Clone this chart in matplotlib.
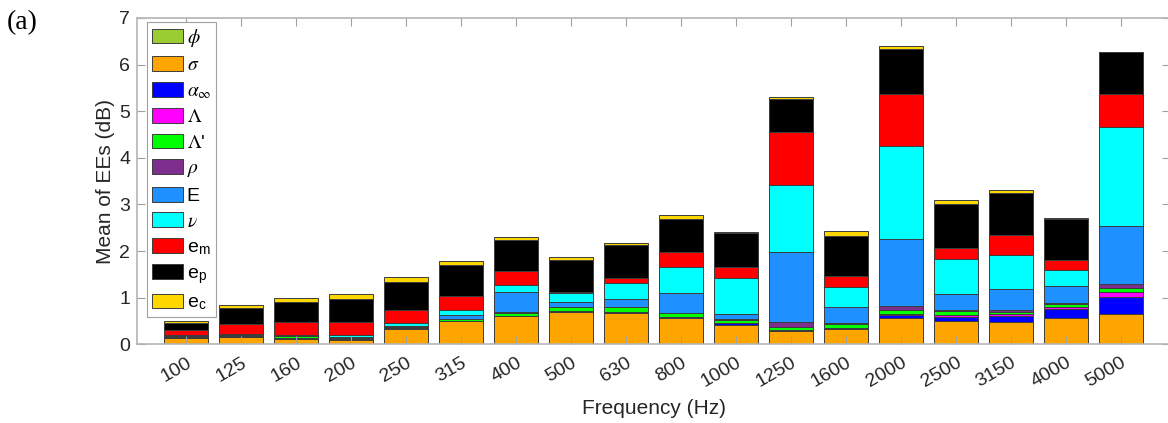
import numpy as np
import matplotlib
matplotlib.use('Agg')
import matplotlib.pyplot as plt

plt.rcParams['font.family'] = ['Liberation Sans', 'DejaVu Sans']
plt.rcParams['mathtext.fontset'] = 'stix'

freq = ['100', '125', '160', '200', '250', '315', '400', '500', '630',
        '800', '1000', '1250', '1600', '2000', '2500', '3150', '4000', '5000']

# stacked contributions, bottom to top
phi = [0.01] * 18
sigma = [0.13, 0.15, 0.11, 0.08, 0.31, 0.48, 0.59, 0.69, 0.67, 0.56, 0.41, 0.27, 0.31, 0.55, 0.50, 0.46, 0.56, 0.65]
alpha = [0.01, 0.01, 0.01, 0.01, 0.01, 0.01, 0.01, 0.01, 0.01, 0.01, 0.03, 0.02, 0.02, 0.06, 0.08, 0.13, 0.19, 0.35]
lam = [0, 0, 0, 0, 0, 0, 0, 0, 0, 0, 0.01, 0.01, 0.01, 0.02, 0.03, 0.05, 0.03, 0.12]
lamp = [0.03, 0.03, 0.04, 0.02, 0.03, 0.04, 0.07, 0.09, 0.10, 0.09, 0.07, 0.07, 0.09, 0.10, 0.09, 0.05, 0.07, 0.07]
rho = [0.005, 0.005, 0.01, 0.01, 0.01, 0.01, 0.01, 0.01, 0.01, 0.01, 0.01, 0.09, 0.01, 0.09, 0.03, 0.03, 0.03, 0.09]
E = [0.01, 0.01, 0.02, 0.02, 0.03, 0.08, 0.44, 0.09, 0.18, 0.41, 0.11, 1.51, 0.34, 1.42, 0.34, 0.45, 0.35, 1.24]
nu = [0.005, 0.005, 0.01, 0.05, 0.06, 0.10, 0.15, 0.20, 0.33, 0.57, 0.77, 1.43, 0.44, 2.01, 0.76, 0.73, 0.35, 2.14]
em = [0.10, 0.21, 0.26, 0.27, 0.27, 0.31, 0.29, 0.02, 0.11, 0.33, 0.23, 1.15, 0.23, 1.10, 0.23, 0.43, 0.21, 0.71]
ep = [0.15, 0.34, 0.43, 0.50, 0.61, 0.67, 0.67, 0.69, 0.71, 0.70, 0.74, 0.71, 0.86, 0.97, 0.93, 0.90, 0.88, 0.89]
ec = [0.05, 0.07, 0.09, 0.10, 0.10, 0.07, 0.07, 0.06, 0.04, 0.09, 0.01, 0.04, 0.12, 0.07, 0.09, 0.08, 0.03, 0.01]

series = [phi, sigma, alpha, lam, lamp, rho, E, nu, em, ep, ec]
labels = [r'$\phi$', r'$\sigma$', r'$\alpha_{\infty}$', r'$\Lambda$', r"$\Lambda$'", r'$\rho$',
          'E', r'$\nu$', r'e$_{\mathregular{m}}$', r'e$_{\mathregular{p}}$', r'e$_{\mathregular{c}}$']
colors = ['#9ACD32', '#FFA500', '#0000FF', '#FF00FF', '#00FF00', '#7E2F8E',
          '#1E90FF', '#00FFFF', '#FF0000', '#000000', '#FFD700']

fig = plt.figure(figsize=(11.68, 4.23), dpi=100)
ax = fig.add_axes([137 / 1168, 1 - 344.3 / 423, 1033 / 1168, (344.3 - 18) / 423])

x = np.arange(len(freq))
bottom = np.zeros(len(freq))
for vals, lab, c in zip(series, labels, colors):
    vals = np.array(vals)
    ax.bar(x, vals, 0.8, bottom=bottom, color=c, edgecolor='#3c3c3c', linewidth=0.7, label=lab)
    bottom += vals

ax.set_xlim(-0.895, len(freq) - 1 + 0.895)
ax.set_ylim(0, 7)
ax.set_xticks(x)
ax.set_xticklabels(freq, rotation=30, ha='right', va='top', rotation_mode='anchor')
ax.set_yticks(range(8))
ax.tick_params(direction='in', top=True, right=True, length=6, width=0.8,
               color='#a0a0a0', labelcolor='#262626', labelsize=14)
ax.tick_params(axis='x', pad=7)
ax.tick_params(axis='y', pad=5)
for s in ax.spines.values():
    s.set_color('#b4b4b4')
    s.set_linewidth(1.2)

ax.set_xlabel('Frequency (Hz)', fontsize=15, color='#262626', labelpad=6)
ax.set_ylabel('Mean of EEs (dB)', fontsize=15, color='#262626', labelpad=3)

leg = ax.legend(loc='upper left', bbox_to_anchor=(0.0094, 0.988), borderaxespad=0,
                fontsize=14, handlelength=1.6, handleheight=0.8, handletextpad=0.2,
                labelspacing=0.38, borderpad=0.25, fancybox=False, framealpha=1)
leg.get_frame().set_edgecolor('#a0a0a0')
leg.get_frame().set_linewidth(0.8)

fig.text(0.006, 0.975, '(a)', fontsize=20, family='Liberation Serif', va='top', ha='left')

fig.savefig('out.png', dpi=100)
